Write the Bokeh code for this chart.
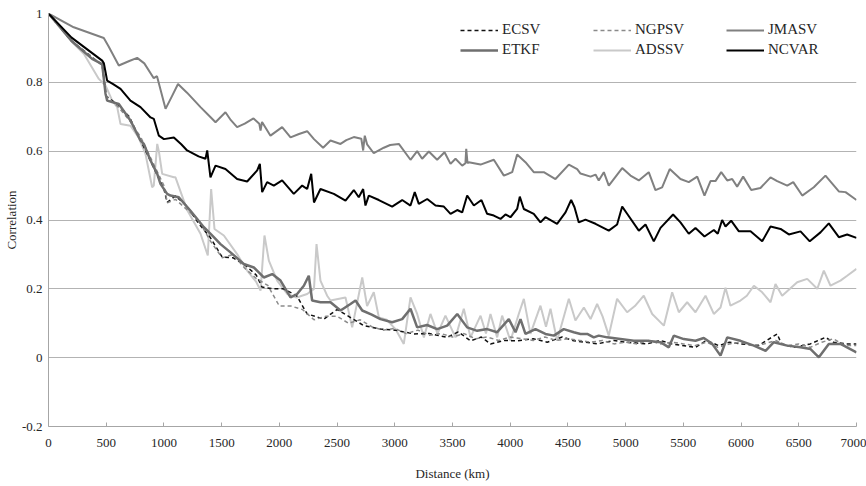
from bokeh.plotting import figure
from bokeh.models import Range1d, FixedTicker, Legend, LegendItem
from bokeh.embed import file_html
from bokeh.resources import INLINE

# ---------------- data ----------------
jmasv_x = [0, 219, 479, 520, 609, 700, 768, 830, 912, 940, 1014, 1070, 1122, 1200, 1317, 1400, 1447,
           1533, 1580, 1634, 1700, 1776, 1826, 1837, 1850, 1923, 2024, 2097, 2170, 2241, 2300, 2379,
           2443, 2530, 2580, 2645, 2710, 2726, 2740, 2760, 2818, 2905, 2960, 3035, 3136, 3194, 3237,
           3295, 3367, 3431, 3483, 3526, 3584, 3612, 3619, 3630, 3641, 3743, 3858, 3945, 4017, 4060,
           4132, 4204, 4291, 4392, 4508, 4580, 4609, 4696, 4739, 4767, 4811, 4854, 4970, 5042, 5114,
           5200, 5258, 5316, 5382, 5475, 5547, 5620, 5683, 5735, 5778, 5828, 5880, 5923, 5966, 6018,
           6088, 6168, 6255, 6313, 6400, 6452, 6530, 6630, 6731, 6847, 6905, 7000]
jmasv_y = [1.0, 0.960, 0.929, 0.905, 0.849, 0.862, 0.871, 0.855, 0.812, 0.818, 0.723, 0.760, 0.795,
           0.770, 0.728, 0.700, 0.684, 0.713, 0.690, 0.670, 0.680, 0.695, 0.680, 0.660, 0.685, 0.645,
           0.670, 0.640, 0.650, 0.658, 0.635, 0.610, 0.631, 0.621, 0.632, 0.641, 0.636, 0.602, 0.645,
           0.620, 0.594, 0.610, 0.618, 0.621, 0.575, 0.600, 0.578, 0.599, 0.575, 0.597, 0.563, 0.578,
           0.558, 0.565, 0.607, 0.565, 0.568, 0.561, 0.575, 0.529, 0.539, 0.590, 0.568, 0.539, 0.539,
           0.519, 0.561, 0.548, 0.535, 0.526, 0.532, 0.515, 0.539, 0.500, 0.551, 0.529, 0.515, 0.539,
           0.487, 0.495, 0.548, 0.519, 0.510, 0.526, 0.471, 0.513, 0.513, 0.539, 0.515, 0.519, 0.497,
           0.526, 0.487, 0.493, 0.524, 0.513, 0.500, 0.510, 0.471, 0.495, 0.529, 0.483, 0.481, 0.458]

ncvar_x = [0, 200, 465, 480, 494, 508, 560, 624, 710, 797, 884, 912, 956, 1000, 1086, 1150, 1201,
           1300, 1360, 1375, 1390, 1403, 1447, 1533, 1634, 1721, 1808, 1831, 1851, 1894, 1952, 2024,
           2125, 2198, 2241, 2276, 2300, 2356, 2472, 2573, 2645, 2688, 2726, 2746, 2775, 2862, 2977,
           3064, 3136, 3173, 3208, 3281, 3353, 3425, 3483, 3541, 3584, 3627, 3685, 3751, 3800, 3858,
           3916, 3959, 4002, 4060, 4083, 4118, 4204, 4262, 4305, 4406, 4479, 4528, 4557, 4594, 4652,
           4739, 4854, 4926, 4970, 5013, 5114, 5172, 5244, 5302, 5411, 5475, 5547, 5605, 5683, 5764,
           5798, 5836, 5865, 5914, 5981, 6082, 6183, 6255, 6342, 6414, 6515, 6595, 6688, 6760, 6847,
           6919, 7000]
ncvar_y = [1.0, 0.930, 0.863, 0.855, 0.830, 0.805, 0.795, 0.781, 0.747, 0.728, 0.698, 0.694, 0.645,
           0.635, 0.640, 0.620, 0.602, 0.585, 0.578, 0.602, 0.560, 0.524, 0.558, 0.548, 0.519, 0.512,
           0.544, 0.563, 0.481, 0.510, 0.500, 0.515, 0.476, 0.500, 0.490, 0.534, 0.451, 0.490, 0.476,
           0.456, 0.487, 0.466, 0.490, 0.442, 0.471, 0.458, 0.439, 0.458, 0.442, 0.481, 0.447, 0.461,
           0.442, 0.439, 0.418, 0.429, 0.422, 0.471, 0.442, 0.458, 0.418, 0.413, 0.403, 0.416, 0.408,
           0.432, 0.468, 0.432, 0.418, 0.393, 0.408, 0.389, 0.422, 0.458, 0.437, 0.393, 0.401, 0.389,
           0.369, 0.387, 0.439, 0.418, 0.369, 0.387, 0.338, 0.377, 0.416, 0.393, 0.360, 0.377, 0.352,
           0.371, 0.360, 0.400, 0.381, 0.398, 0.367, 0.367, 0.338, 0.381, 0.374, 0.358, 0.367, 0.338,
           0.364, 0.390, 0.350, 0.358, 0.348]

etkf_x = [0, 200, 378, 465, 494, 508, 609, 710, 797, 826, 884, 942, 970, 1028, 1057, 1129, 1230, 1346,
          1432, 1490, 1577, 1692, 1779, 1822, 1865, 1938, 2010, 2097, 2154, 2212, 2255, 2284, 2356,
          2443, 2530, 2616, 2660, 2718, 2800, 2876, 2977, 3064, 3136, 3194, 3280, 3367, 3454, 3541,
          3627, 3714, 3800, 3887, 3988, 4046, 4089, 4132, 4219, 4305, 4378, 4464, 4551, 4609, 4667,
          4724, 4767, 4840, 4955, 5071, 5187, 5302, 5374, 5417, 5504, 5605, 5677, 5750, 5822, 5880,
          5995, 6111, 6212, 6284, 6400, 6515, 6602, 6674, 6760, 6861, 7000]
etkf_y = [1.0, 0.920, 0.868, 0.853, 0.767, 0.747, 0.737, 0.689, 0.631, 0.621, 0.573, 0.534, 0.505,
          0.476, 0.471, 0.466, 0.427, 0.379, 0.350, 0.330, 0.306, 0.272, 0.262, 0.248, 0.233, 0.243,
          0.224, 0.175, 0.185, 0.209, 0.238, 0.166, 0.161, 0.161, 0.137, 0.156, 0.166, 0.137, 0.125,
          0.112, 0.103, 0.112, 0.142, 0.088, 0.095, 0.083, 0.093, 0.127, 0.088, 0.078, 0.083, 0.074,
          0.112, 0.074, 0.112, 0.069, 0.083, 0.069, 0.064, 0.083, 0.074, 0.069, 0.069, 0.059, 0.064,
          0.059, 0.054, 0.049, 0.049, 0.045, 0.030, 0.064, 0.054, 0.049, 0.057, 0.040, 0.006, 0.059,
          0.049, 0.035, 0.020, 0.045, 0.035, 0.030, 0.025, 0.001, 0.040, 0.040, 0.015]

adssv_x = [0, 219, 306, 436, 494, 552, 595, 624, 710, 780, 840, 898, 912, 942, 956, 985, 1086, 1100,
           1200, 1317, 1380, 1409, 1438, 1519, 1634, 1721, 1800, 1837, 1871, 1909, 1981, 2068, 2150,
           2241, 2300, 2322, 2356, 2414, 2443, 2573, 2631, 2718, 2760, 2818, 2862, 2930, 3006, 3078,
           3136, 3194, 3252, 3309, 3370, 3439, 3526, 3598, 3656, 3743, 3790, 3829, 3887, 3930, 4002,
           4074, 4118, 4175, 4262, 4310, 4349, 4406, 4508, 4565, 4638, 4696, 4753, 4800, 4854, 4926,
           5013, 5080, 5157, 5230, 5331, 5403, 5461, 5533, 5605, 5692, 5764, 5822, 5865, 5908, 5995,
           6050, 6111, 6183, 6255, 6298, 6356, 6486, 6573, 6660, 6717, 6775, 6861, 6919, 7000]
adssv_y = [1.0, 0.912, 0.883, 0.810, 0.791, 0.747, 0.728, 0.679, 0.674, 0.640, 0.592, 0.495, 0.500,
           0.621, 0.600, 0.534, 0.524, 0.524, 0.430, 0.360, 0.297, 0.490, 0.374, 0.355, 0.301, 0.253,
           0.220, 0.195, 0.355, 0.282, 0.224, 0.185, 0.175, 0.185, 0.200, 0.330, 0.224, 0.180, 0.166,
           0.175, 0.088, 0.233, 0.150, 0.190, 0.117, 0.110, 0.083, 0.040, 0.175, 0.127, 0.059, 0.127,
           0.070, 0.122, 0.059, 0.142, 0.059, 0.122, 0.070, 0.127, 0.059, 0.122, 0.049, 0.127, 0.171,
           0.069, 0.151, 0.090, 0.142, 0.049, 0.171, 0.108, 0.146, 0.112, 0.156, 0.120, 0.064, 0.171,
           0.132, 0.150, 0.180, 0.127, 0.093, 0.190, 0.132, 0.161, 0.132, 0.180, 0.127, 0.146, 0.203,
           0.151, 0.166, 0.180, 0.209, 0.190, 0.161, 0.214, 0.180, 0.219, 0.229, 0.200, 0.253, 0.209,
           0.224, 0.238, 0.258]

ecsv_x = [0, 200, 465, 500, 600, 700, 800, 900, 1000, 1028, 1100, 1200, 1300, 1400, 1505, 1600, 1700,
          1800, 1850, 1950, 2036, 2150, 2241, 2385, 2500, 2600, 2732, 2876, 3000, 3165, 3300, 3454,
          3550, 3656, 3750, 3829, 3950, 4060, 4200, 4320, 4450, 4551, 4650, 4753, 4900, 5000, 5187,
          5300, 5400, 5605, 5700, 5807, 5900, 6000, 6150, 6313, 6350, 6458, 6600, 6731, 6800, 6919,
          7000]
ecsv_y = [1.0, 0.920, 0.850, 0.760, 0.735, 0.700, 0.630, 0.560, 0.490, 0.451, 0.470, 0.440, 0.390,
          0.350, 0.292, 0.290, 0.270, 0.240, 0.205, 0.200, 0.200, 0.180, 0.127, 0.112, 0.140, 0.120,
          0.093, 0.083, 0.080, 0.069, 0.070, 0.059, 0.075, 0.049, 0.060, 0.040, 0.050, 0.049, 0.055,
          0.045, 0.060, 0.049, 0.045, 0.040, 0.050, 0.045, 0.040, 0.050, 0.040, 0.030, 0.050, 0.035,
          0.045, 0.040, 0.035, 0.069, 0.040, 0.030, 0.040, 0.059, 0.045, 0.040, 0.040]

ngpsv_x = [0, 200, 465, 500, 600, 700, 800, 900, 1000, 1030, 1100, 1200, 1300, 1400, 1505, 1600, 1700,
           1800, 1900, 2000, 2100, 2200, 2300, 2400, 2500, 2600, 2700, 2800, 2900, 3000, 3100, 3200,
           3300, 3400, 3500, 3600, 3700, 3800, 3900, 4000, 4100, 4200, 4300, 4400, 4500, 4600, 4700,
           4800, 4900, 5000, 5100, 5200, 5300, 5400, 5500, 5600, 5700, 5800, 5900, 6000, 6100, 6200,
           6300, 6400, 6500, 6600, 6700, 6800, 6900, 7000]
ngpsv_y = [1.0, 0.920, 0.850, 0.760, 0.730, 0.690, 0.640, 0.570, 0.500, 0.450, 0.460, 0.430, 0.400,
           0.340, 0.290, 0.300, 0.260, 0.230, 0.210, 0.150, 0.150, 0.140, 0.110, 0.120, 0.120, 0.100,
           0.110, 0.090, 0.080, 0.085, 0.070, 0.080, 0.065, 0.070, 0.060, 0.070, 0.055, 0.060, 0.050,
           0.060, 0.055, 0.050, 0.060, 0.050, 0.055, 0.050, 0.045, 0.050, 0.040, 0.045, 0.040, 0.050,
           0.040, 0.045, 0.040, 0.035, 0.045, 0.030, 0.040, 0.045, 0.035, 0.040, 0.050, 0.035, 0.040,
           0.030, 0.045, 0.055, 0.035, 0.035]

x_ticks = [0, 500, 1000, 1500, 2000, 2500, 3000, 3500, 4000, 4500, 5000, 5500, 6000, 6500, 7000]
x_tick_labels = [str(t) for t in x_ticks]
y_ticks = [-0.2, 0.0, 0.2, 0.4, 0.6, 0.8, 1.0]
y_tick_labels = ["-0.2", "0", "0.2", "0.4", "0.6", "0.8", "1"]

x_title = "Distance (km)"
y_title = "Correlation"

# ---------------- figure ----------------
FONT = "'Liberation Serif', 'Times New Roman', serif"
TXT = "#262626"

p = figure(width=866, height=486, x_range=Range1d(0, 7000), y_range=Range1d(-0.2, 1.0),
           output_backend="svg", toolbar_location=None,
           min_border_left=48, min_border_right=10, min_border_top=13, min_border_bottom=60)
p.outline_line_color = None
p.background_fill_color = "white"
p.border_fill_color = "white"

p.xgrid.visible = False
p.ygrid.grid_line_color = "#b3b3b3"
p.ygrid.grid_line_width = 1
p.ygrid.ticker = FixedTicker(ticks=y_ticks)

xa = p.xaxis[0]
xa.ticker = FixedTicker(ticks=x_ticks)
xa.major_label_overrides = {t: l for t, l in zip(x_ticks, x_tick_labels)}
xa.axis_line_color = "#a6a6a6"
xa.major_tick_line_color = "#a6a6a6"
xa.major_tick_in = 4
xa.major_tick_out = 0
xa.minor_tick_line_color = None
xa.major_label_standoff = 12
xa.major_label_text_font = FONT
xa.major_label_text_font_size = "13px"
xa.major_label_text_color = TXT
xa.axis_label = x_title
xa.axis_label_text_font = FONT
xa.axis_label_text_font_size = "13px"
xa.axis_label_text_font_style = "normal"
xa.axis_label_text_color = TXT
xa.axis_label_standoff = 16

ya = p.yaxis[0]
ya.ticker = FixedTicker(ticks=y_ticks)
ya.major_label_overrides = {t: l for t, l in zip(y_ticks, y_tick_labels)}
ya.axis_line_color = "#a6a6a6"
ya.major_tick_line_color = None
ya.minor_tick_line_color = None
ya.major_tick_in = 0
ya.major_tick_out = 0
ya.major_label_standoff = 6
ya.major_label_text_font = FONT
ya.major_label_text_font_size = "13px"
ya.major_label_text_color = TXT
ya.axis_label = y_title
ya.axis_label_text_font = FONT
ya.axis_label_text_font_size = "13px"
ya.axis_label_text_font_style = "normal"
ya.axis_label_text_color = TXT
ya.axis_label_standoff = 0

r_adssv = p.line(adssv_x, adssv_y, line_color="#c9c9c9", line_width=2)
r_ecsv = p.line(ecsv_x, ecsv_y, line_color="#111111", line_width=1.5, line_dash="4 3")
r_ngpsv = p.line(ngpsv_x, ngpsv_y, line_color="#8a8a8a", line_width=1.5, line_dash="4 3")
r_etkf = p.line(etkf_x, etkf_y, line_color="#6f6f6f", line_width=2.5)
r_jmasv = p.line(jmasv_x, jmasv_y, line_color="#808080", line_width=2)
r_ncvar = p.line(ncvar_x, ncvar_y, line_color="#000000", line_width=2)

legend = Legend(items=[
    LegendItem(label="ECSV", renderers=[r_ecsv]),
    LegendItem(label="NGPSV", renderers=[r_ngpsv]),
    LegendItem(label="JMASV", renderers=[r_jmasv]),
    LegendItem(label="ETKF", renderers=[r_etkf]),
    LegendItem(label="ADSSV", renderers=[r_adssv]),
    LegendItem(label="NCVAR", renderers=[r_ncvar]),
], orientation="horizontal", ncols=3, location=(412, 368))
legend.border_line_color = None
legend.background_fill_alpha = 0
legend.padding = 0
legend.margin = 0
legend.spacing = 3
legend.glyph_width = 38
legend.glyph_height = 14
legend.label_height = 14
legend.label_width = 88
legend.label_standoff = 4
legend.label_text_font = FONT
legend.label_text_font_size = "15px"
legend.label_text_color = TXT
p.add_layout(legend, "center")

open("out.html", "w").write(file_html(p, INLINE))
